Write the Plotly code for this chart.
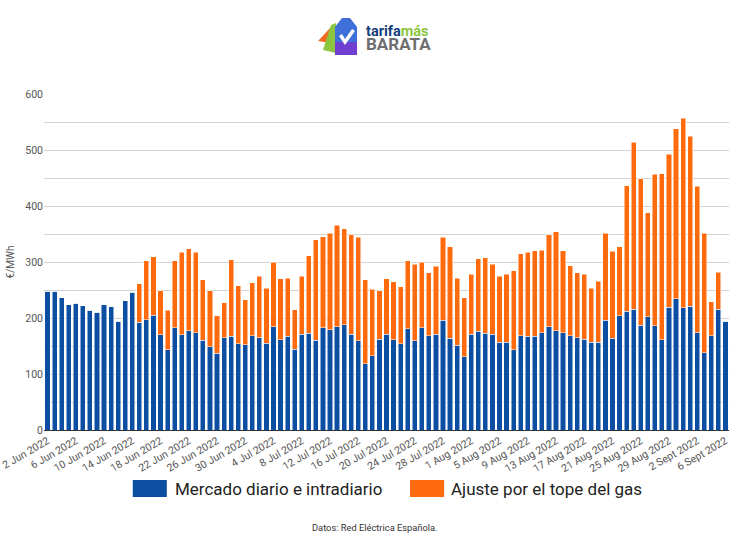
import plotly.graph_objects as go
import pandas as pd

start_date = "2022-06-02"
days = pd.date_range(start_date, periods=97).strftime("%Y-%m-%d").tolist()

market = [248,248,236,224,226,222,214,210,224,220,194,231,246,192,197,205,170,143,183,170,
          177,174,160,149,137,165,167,154,152,168,165,155,184,161,167,144,171,173,160,183,
          179,184,188,171,159,118,133,162,171,161,154,181,159,183,168,171,196,164,151,131,
          171,176,173,171,157,157,143,168,167,167,174,184,177,174,168,165,162,157,157,196,
          164,204,212,216,187,202,186,161,219,234,218,221,174,138,168,216,194]
adjust = [0,0,0,0,0,0,0,0,0,0,0,0,0,69,105,104,79,71,119,147,
          147,143,108,100,67,62,137,104,81,95,110,98,116,109,104,71,104,138,180,162,
          172,182,171,178,185,150,118,87,99,104,102,121,137,117,113,121,148,163,120,105,
          107,130,135,125,118,121,141,147,150,153,147,165,177,146,125,116,116,96,109,155,
          155,123,224,298,262,186,271,297,273,304,339,304,261,213,61,66,0]
tick_vals = ["2022-06-02","2022-06-06","2022-06-10","2022-06-14","2022-06-18","2022-06-22",
             "2022-06-26","2022-06-30","2022-07-04","2022-07-08","2022-07-12","2022-07-16",
             "2022-07-20","2022-07-24","2022-07-28","2022-08-01","2022-08-05","2022-08-09",
             "2022-08-13","2022-08-17","2022-08-21","2022-08-25","2022-08-29","2022-09-02","2022-09-06"]
tick_text = ["2 Jun 2022","6 Jun 2022","10 Jun 2022","14 Jun 2022","18 Jun 2022","22 Jun 2022",
             "26 Jun 2022","30 Jun 2022","4 Jul 2022","8 Jul 2022","12 Jul 2022","16 Jul 2022",
             "20 Jul 2022","24 Jul 2022","28 Jul 2022","1 Aug 2022","5 Aug 2022","9 Aug 2022",
             "13 Aug 2022","17 Aug 2022","21 Aug 2022","25 Aug 2022","29 Aug 2022","2 Sept 2022","6 Sept 2022"]
names = ["Mercado diario e intradiario", "Ajuste por el tope del gas"]
colors = ["#0B4EA2", "#FF6A0D"]
assert len(market) == len(adjust) == len(days) == 97

W, H = 752, 540
LEFT, RIGHT, TOP, BOTTOM = 44.3, 728.6, 94, 430
def px(x): return (x - LEFT) / (RIGHT - LEFT)
def py(y): return (BOTTOM - y) / (BOTTOM - TOP)
def path(points):
    return "M" + " L".join(f"{px(x):.4f},{py(y):.4f}" for x, y in points) + " Z"

fig = go.Figure()
for name, vals, c in zip(names, [market, adjust], colors):
    fig.add_bar(x=days, y=vals, name=name, marker=dict(color=c, line=dict(color="white", width=0.5)),
                showlegend=False)

shapes = [
    dict(type="rect", xref="paper", yref="paper", x0=px(133), x1=px(167), y0=py(497), y1=py(480),
         fillcolor=colors[0], line_width=0),
    dict(type="rect", xref="paper", yref="paper", x0=px(410), x1=px(444), y0=py(497), y1=py(480),
         fillcolor=colors[1], line_width=0),
    dict(type="path", xref="paper", yref="paper", path=path([(318,41),(331,27),(331,43)]),
         fillcolor="#F26A21", line_width=0),
    dict(type="path", xref="paper", yref="paper", path=path([(323,50),(331,25),(336,23),(336,53)]),
         fillcolor="#8CC63F", line_width=0),
    dict(type="path", xref="paper", yref="paper",
         path=path([(335,27),(342,18),(350,18),(357,27),(357,42),(335,42)]),
         fillcolor="#3F6FD8", line_width=0),
    dict(type="path", xref="paper", yref="paper",
         path=path([(335,42),(357,42),(357,55),(335,55)]),
         fillcolor="#6F3FD0", line_width=0),
    dict(type="path", xref="paper", yref="paper",
         path=path([(339,36),(342,34),(345,39),(352,29),(355,31),(345,45)]),
         fillcolor="white", line_width=0),
]

def note(text, x, y, size, color, anchor="left", family="Roboto", **kw):
    return dict(text=text, xref="paper", yref="paper", x=px(x), y=py(y), showarrow=False,
                xanchor=anchor, yanchor="middle", borderpad=0, font=dict(family=family, size=size, color=color), **kw)

logo_text = ("<b><span style='font-size:14.5px;color:#123F7A'>tarifa</span>"
             "<span style='font-size:14.5px;color:#8CC63F'>más</span><br>"
             "<span style='font-size:17px;color:#6E6E70'>BARATA</span></b>")

annotations = [
    note(names[0], 174, 489, 17, "#222222"),
    note(names[1], 450, 489, 17, "#222222"),
    note("Datos: Red Eléctrica Española.", 375, 527, 9.3, "#333333", anchor="center"),
    note(logo_text, 365, 39, 11, "#6E6E70", align="left"),
]

fig.update_layout(
    width=W, height=H, barmode="stack", bargap=0.27,
    margin=dict(l=LEFT, r=W - RIGHT, t=TOP, b=H - BOTTOM, autoexpand=False),
    paper_bgcolor="white", plot_bgcolor="white",
    font=dict(family="Roboto", size=10.5, color="#555555"),
    shapes=shapes, annotations=annotations,
    xaxis=dict(type="category", categoryorder="array", categoryarray=days, range=[-0.5, 96.5],
               tickmode="array", tickvals=tick_vals, ticktext=tick_text, tickangle=-30,
               showgrid=False, ticks="", showline=True, linecolor="#333333", linewidth=1,
               tickfont=dict(size=10.5, color="#555555")),
    yaxis=dict(range=[0, 600], tickvals=[0,100,200,300,400,500,600], showgrid=True,
               gridcolor="#D3D3D3", gridwidth=1, zeroline=False, ticks="",
               minor=dict(dtick=50, showgrid=True, gridcolor="#D3D3D3", gridwidth=1),
               title=dict(text="€/MWh", font=dict(size=10, color="#555555"), standoff=8),
               tickfont=dict(size=10.5, color="#555555")),
)
fig.write_html("out.html", post_script="document.body.style.margin='0';", config=dict(displayModeBar=False))
